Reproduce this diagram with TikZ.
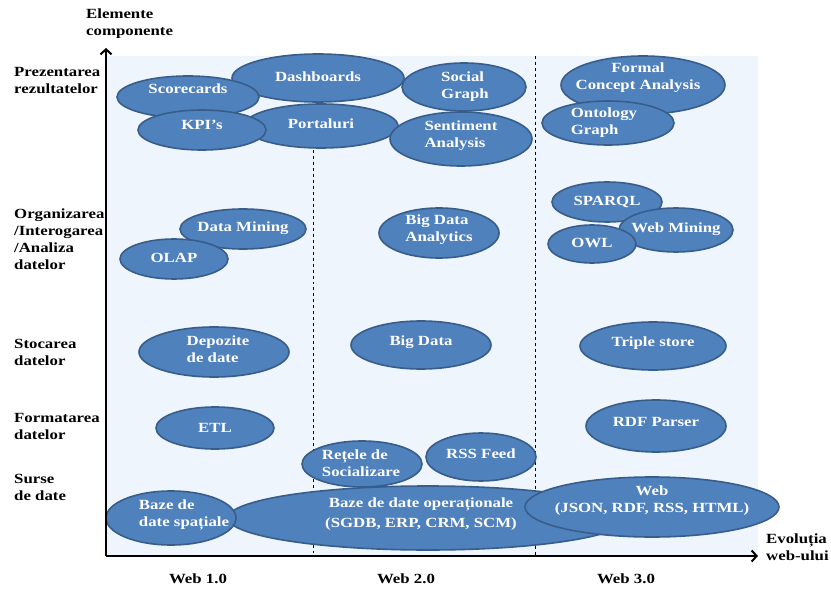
\documentclass[tikz,border=0pt]{standalone}
\usepackage{fontspec}
\setmainfont{Liberation Serif}[FakeStretch=1.2]
\usetikzlibrary{arrows.meta}
\definecolor{bubblefill}{RGB}{79,129,189}
\definecolor{bubbleline}{RGB}{56,93,138}
\definecolor{panelbg}{RGB}{238,245,253}
\tikzset{
  bubble/.style={fill=bubblefill, draw=bubbleline, line width=1.6bp},
  bubtext/.style={text=white, inner sep=0pt, align=center,
    font=\fontsize{14bp}{17bp}\selectfont\bfseries},
  rowlabel/.style={anchor=west, inner sep=0pt, align=left,
    font=\fontsize{14bp}{17bp}\selectfont\bfseries},
  axis/.style={line width=2bp, -{Straight Barb[length=5bp,width=11bp]}}
}

\begin{document}
\begin{tikzpicture}[x=1bp, y=-1bp]
       \useasboundingbox (0,0) rectangle (831,589);
       \fill [panelbg] (107,56) rectangle (758,556);
       \draw [dashed, line width=0.8bp] (313,150) -- (313,556);
       \draw [dashed, line width=0.8bp] (535,56) -- (535,556);

       \draw [bubble] (318,78) ellipse [x radius=86bp, y radius=24bp];
       \node [bubtext] at (318,77) (dashboards) {Dashboards};
       \draw [bubble] (188,97) ellipse [x radius=71bp, y radius=21bp];
       \node [bubtext] at (188,89) (scorecards) {Scorecards};
       \draw [bubble] (321,126) ellipse [x radius=77bp, y radius=22bp];
       \node [bubtext] at (321,124) (portaluri) {Portaluri};
       \draw [bubble] (202,130) ellipse [x radius=64bp, y radius=20bp];
       \node [bubtext] at (202,125) (kpis) {KPI’s};
       \draw [bubble] (464,87) ellipse [x radius=62bp, y radius=24bp];
       \node [bubtext, align=left] at (465,87) (socialgraph) {Social\\Graph};
       \draw [bubble] (461,139) ellipse [x radius=71bp, y radius=27bp];
       \node [bubtext, align=left] at (461,136) (sentiment) {Sentiment\\Analysis};
       \draw [bubble] (643,85) ellipse [x radius=82bp, y radius=29bp];
       \node [bubtext] at (638,78) (formal) {Formal\\Concept Analysis};
       \draw [bubble] (608,123) ellipse [x radius=66bp, y radius=22bp];
       \node [bubtext, align=left] at (604,123) (ontology) {Ontology\\Graph};

       \draw [bubble] (243,229) ellipse [x radius=63bp, y radius=20bp];
       \node [bubtext] at (243,228) (datamining) {Data Mining};
       \draw [bubble] (174,259) ellipse [x radius=54bp, y radius=20bp];
       \node [bubtext] at (174,258) (olap) {OLAP};
       \draw [bubble] (439,233) ellipse [x radius=60bp, y radius=25bp];
       \node [bubtext, align=left] at (439,230) (bigdataan) {Big Data\\Analytics};
       \draw [bubble] (607,202) ellipse [x radius=55bp, y radius=20bp];
       \node [bubtext] at (607,202) (sparql) {SPARQL};
       \draw [bubble] (676,230) ellipse [x radius=57bp, y radius=22bp];
       \node [bubtext] at (676,229) (webmining) {Web Mining};
       \draw [bubble] (592,244) ellipse [x radius=44bp, y radius=19bp];
       \node [bubtext] at (592,243) (owl) {OWL};

       \draw [bubble] (214,352) ellipse [x radius=75bp, y radius=25bp];
       \node [bubtext, align=left] at (218,349) (depozite) {Depozite\\de date};
       \draw [bubble] (421,345) ellipse [x radius=70bp, y radius=24bp];
       \node [bubtext] at (421,342) (bigdata) {Big Data};
       \draw [bubble] (653,346) ellipse [x radius=73bp, y radius=24bp];
       \node [bubtext] at (653,343) (triplestore) {Triple store};

       \draw [bubble] (215,428) ellipse [x radius=59bp, y radius=21bp];
       \node [bubtext] at (215,428) (etl) {ETL};
       \draw [bubble] (656,426) ellipse [x radius=70bp, y radius=26bp];
       \node [bubtext] at (656,422) (rdfparser) {RDF Parser};

       \draw [bubble] (362,464) ellipse [x radius=60bp, y radius=23bp];
       \node [bubtext, align=left] at (361,463) (retele) {Rețele de\\Socializare};
       \draw [bubble] (481,457) ellipse [x radius=55bp, y radius=24bp];
       \node [bubtext] at (481,454) (rss) {RSS Feed};
       \draw [bubble] (428,518) ellipse [x radius=200bp, y radius=32bp];
       \node [bubtext] at (421,514) (bazeop) {Baze de date operaționale\\[3bp](SGDB, ERP, CRM, SCM)};
       \draw [bubble] (171,518) ellipse [x radius=65bp, y radius=27bp];
       \node [bubtext, align=left] at (184,515) (bazesp) {Baze de\\date spațiale};
       \draw [bubble] (652,507) ellipse [x radius=127bp, y radius=30bp];
       \node [bubtext] at (652,501) (web) {Web\\(JSON, RDF, RSS, HTML)};

       \coordinate (origin) at (106,556);
       \coordinate (ytip) at (106,48);
       \coordinate (xtip) at (758,556);
       \draw [axis] (origin) -- (ytip);
       \draw [axis] (origin) -- (xtip);

       \node [rowlabel] at (86,24) (yname) {Elemente\\componente};
       \node [rowlabel] at (766,547) (xname) {Evoluția\\web-ului};
       \node [rowlabel] at (14,81) (prezentarea) {Prezentarea\\rezultatelor};
       \node [rowlabel] at (14,239) (organizarea) {Organizarea\\/Interogarea\\/Analiza\\datelor};
       \node [rowlabel] at (14,352) (stocarea) {Stocarea\\datelor};
       \node [rowlabel] at (14,426) (formatarea) {Formatarea\\datelor};
       \node [rowlabel] at (14,487) (surse) {Surse\\de date};

       \node [rowlabel, anchor=center] at (198,579) (web1) {Web 1.0};
       \node [rowlabel, anchor=center] at (406,579) (web2) {Web 2.0};
       \node [rowlabel, anchor=center] at (626,579) (web3) {Web 3.0};
    \end{tikzpicture}
\end{document}
